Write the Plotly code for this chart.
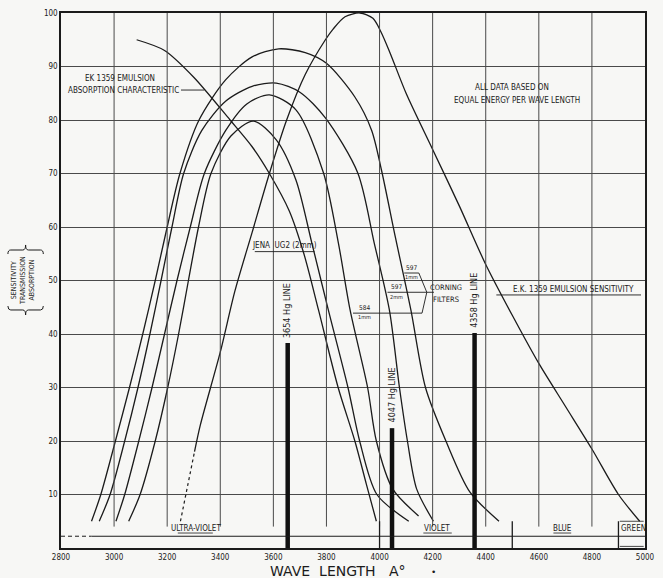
import plotly.graph_objects as go

# ---------------- data ----------------
x_ticks = [2800, 3000, 3200, 3400, 3600, 3800, 4000, 4200, 4400, 4600, 4800, 5000]
y_ticks = [10, 20, 30, 40, 50, 60, 70, 80, 90, 100]

# E.K. 1359 emulsion sensitivity (dashed lower-left part + solid)
sens_dash_x = [3250, 3275, 3303]
sens_dash_y = [5, 11, 18]
sens_x = [3303, 3325, 3400, 3455, 3520, 3585, 3650, 3720, 3796, 3825, 3870, 3926, 3975, 4005,
          4040, 4100, 4200, 4300, 4400, 4500, 4600, 4700, 4800, 4900, 4980]
sens_y = [18, 23, 36.6, 48, 59, 70, 80, 88.5, 95, 97, 99.3, 100, 99, 96.5,
          92.5, 85, 74.5, 64, 53, 43.5, 34.5, 26.5, 18.5, 10, 5]

# E.K. 1359 emulsion absorption characteristic
abs_x = [3085, 3190, 3300, 3437, 3520, 3585, 3660, 3715, 3770, 3844, 3907, 3950, 3988]
abs_y = [95, 93, 88, 80, 75, 70, 63, 55, 44.5, 30, 20, 12, 5]

# Corning 597 (1 mm)
c597a_x = [2915, 2950, 3005, 3058, 3108, 3155, 3200, 3248, 3320, 3420, 3520, 3620,
           3720, 3800, 3907, 3970, 4007, 4060, 4118, 4173, 4250, 4340, 4450]
c597a_y = [5, 10, 20, 30, 40, 50, 60, 70, 80, 87.5, 91.8, 93.3,
           92.6, 90.6, 84.3, 78.1, 70.7, 58, 44.5, 30, 20, 10.5, 5]

# Corning 597 (2 mm)
c597b_x = [2944, 2985, 3040, 3090, 3135, 3177, 3218, 3262, 3330, 3420, 3520, 3611,
           3700, 3796, 3918, 3980, 4037, 4075, 4105, 4140, 4203]
c597b_y = [5, 10, 20, 30, 40, 50, 60, 70, 78, 83.5, 86.3, 86.9,
           85.2, 80.4, 70.1, 57, 44.5, 30, 20, 11, 5]

# Corning 584 (1 mm)
c584_x = [3007, 3040, 3093, 3143, 3190, 3237, 3287, 3340, 3420, 3500, 3585,
          3685, 3789, 3845, 3889, 3955, 3988, 4050, 4147]
c584_y = [5, 10, 20, 30, 40, 50, 60, 70, 78, 83, 84.7,
          81.9, 70.1, 57, 44.5, 30, 20, 11, 6]

# Jena UG2 (2 mm)
jena_x = [3055, 3098, 3155, 3202, 3243, 3280, 3318, 3365, 3440, 3525, 3611,
          3685, 3745, 3807, 3881, 3925, 3990, 4110]
jena_y = [5, 10, 20, 30, 40, 50, 60, 70, 77, 79.8, 76.3,
          68.8, 57, 44.5, 30, 20, 10, 5]

# Mercury lines
hg_x = [3654, 4047, 4358]
hg_y = [38.3, 22.4, 40.2]
hg_labels = ["3654 Hg LINE", "4047 Hg LINE", "4358 Hg LINE"]

# Spectral band
band_level = 2.2
band_ticks = [4000, 4500, 4900]
band_names = ["ULTRA-VIOLET", "VIOLET", "BLUE", "GREEN"]
band_name_x = [3307, 4218, 4689, 4955]

# ---------------- styling ----------------
INK = "#1b1b1b"
GRID = "#4a4a4a"
BG = "#f7f7f5"
FONT = "DejaVu Sans Condensed, DejaVu Sans, sans-serif"

fig = go.Figure()

curve_style = dict(mode="lines", line=dict(color=INK, width=1.3, shape="spline", smoothing=0.8),
                   hoverinfo="skip", showlegend=False)

for xs, ys in [(sens_x, sens_y), (abs_x, abs_y), (c597a_x, c597a_y),
               (c597b_x, c597b_y), (c584_x, c584_y), (jena_x, jena_y)]:
    fig.add_trace(go.Scatter(x=xs, y=ys, **curve_style))

fig.add_trace(go.Scatter(x=sens_dash_x, y=sens_dash_y, mode="lines",
                         line=dict(color=INK, width=1.2, dash="3px,3px"),
                         hoverinfo="skip", showlegend=False))

# mercury lines as thick bars
for hx, hy in zip(hg_x, hg_y):
    fig.add_trace(go.Scatter(x=[hx, hx], y=[0, hy], mode="lines",
                             line=dict(color="#111", width=4.5),
                             hoverinfo="skip", showlegend=False))

shapes = []
# vertical grid lines, stopping above the spectral band
for xv in x_ticks[1:-1]:
    shapes.append(dict(type="line", xref="x", yref="y", x0=xv, x1=xv, y0=4, y1=100,
                       line=dict(color=GRID, width=1)))
# spectral band line
shapes.append(dict(type="line", xref="x", yref="y", x0=2800, x1=2915, y0=band_level, y1=band_level,
                   line=dict(color=INK, width=1, dash="4px,3px")))
shapes.append(dict(type="line", xref="x", yref="y", x0=2915, x1=5000, y0=band_level, y1=band_level,
                   line=dict(color=INK, width=1.2)))
for bt in band_ticks:
    shapes.append(dict(type="line", xref="x", yref="y", x0=bt, x1=bt, y0=0, y1=5,
                       line=dict(color=INK, width=1.3)))


def seg(x0, y0, x1, y1, w=0.9):
    shapes.append(dict(type="line", xref="x", yref="y", x0=x0, x1=x1, y0=y0, y1=y1,
                       line=dict(color=INK, width=w)))


# underlines for band names and the GREEN box
seg(3240, 2.8, 3372, 2.8, 0.8)
seg(4165, 2.8, 4272, 2.8, 0.8)
seg(4655, 2.8, 4722, 2.8, 0.8)
seg(4905, 5.0, 4995, 5.0, 0.8)
seg(4905, 0.3, 4995, 0.3, 0.8)

# annotation leader / underline lines
seg(3252, 85.6, 3340, 85.6)                      # absorption leader
seg(3530, 55.4, 3755, 55.4)                      # Jena underline
seg(4440, 47.3, 4985, 47.3)                      # sensitivity underline
seg(4093, 51.4, 4148, 51.4)                      # 597 1mm
seg(4030, 47.8, 4178, 47.8)                      # 597 2mm
seg(3900, 43.9, 4160, 43.9)                      # 584 1mm
seg(4148, 51.4, 4178, 47.8)                      # bracket
seg(4178, 47.8, 4160, 43.9)
seg(4178, 47.8, 4205, 47.8)


# braces of the y-axis title (paper coordinates)
def brace(x0, x1, y_end, y_body, y_tip):
    xm = (x0 + x1) / 2
    d = (x1 - x0) * 0.08
    p = (f"M {x0},{y_end} Q {x0},{y_body} {x0 + d},{y_body} L {xm - d},{y_body} "
         f"Q {xm},{y_body} {xm},{y_tip} Q {xm},{y_body} {xm + d},{y_body} "
         f"L {x1 - d},{y_body} Q {x1},{y_body} {x1},{y_end}")
    shapes.append(dict(type="path", xref="paper", yref="paper", path=p,
                       line=dict(color=INK, width=1)))


brace(-0.0909, -0.0303, 0.5495, 0.557, 0.5664)
brace(-0.0909, -0.0303, 0.4523, 0.4449, 0.4355)

fig.update_layout(shapes=shapes)

ann = []


def txt(x, y, t, size=8, angle=0, xanchor="center", yanchor="middle", xref="x", yref="y", family=FONT):
    ann.append(dict(x=x, y=y, xref=xref, yref=yref, text=t, showarrow=False,
                    textangle=angle, xanchor=xanchor, yanchor=yanchor,
                    font=dict(family=family, size=size, color=INK)))


txt(3022, 87.8, "EK 1359 EMULSION")
txt(3037, 85.5, "ABSORPTION CHARACTERISTIC")
txt(4500, 86.0, "ALL DATA BASED ON")
txt(4519, 83.6, "EQUAL ENERGY PER WAVE LENGTH")
txt(3642, 56.6, "JENA  UG2 (2mm)")
txt(4730, 48.3, "E.K. 1359 EMULSION SENSITIVITY")
txt(4120, 52.4, "597", 6.5)
txt(4120, 50.6, "1mm", 5.5)
txt(4062, 48.8, "597", 6.5)
txt(4062, 47.0, "2mm", 5.5)
txt(3945, 44.9, "584", 6.5)
txt(3945, 43.1, "1mm", 5.5)
txt(4250, 48.7, "CORNING", 7.5)
txt(4250, 46.5, "FILTERS", 7.5)
for hx, hy, lab in zip(hg_x, hg_y, hg_labels):
    txt(hx, hy + 0.6, lab, 9, angle=-90, yanchor="bottom")
for bx, bn in zip(band_name_x, band_names):
    txt(bx, 3.7, bn, 8)

# y-axis title
txt(-0.066, 0.50, "SENSITIVITY<br>TRANSMISSION<br>ABSORPTION", 7, angle=-90, xref="paper", yref="paper")
# x-axis title and the stray dot
txt(0.475, -0.043, "WAVE  LENGTH   A°", 14, xref="paper", yref="paper", family="DejaVu Sans, sans-serif")
txt(4203, -0.045, "•", 9, yref="paper", family="DejaVu Sans, sans-serif")

fig.update_layout(annotations=ann)

fig.update_xaxes(range=[2800, 5000], tickvals=x_ticks, ticktext=[str(v) for v in x_ticks],
                 showgrid=False, zeroline=False, showline=True, mirror=True,
                 linecolor=INK, linewidth=1.5, ticks="", ticklabelstandoff=1,
                 tickfont=dict(family=FONT, size=8, color=INK))
fig.update_yaxes(range=[0, 100], tickvals=y_ticks, ticktext=[str(v) for v in y_ticks],
                 showgrid=True, gridcolor=GRID, gridwidth=1, zeroline=False,
                 showline=True, mirror=True, linecolor=INK, linewidth=1.5, ticks="",
                 tickfont=dict(family=FONT, size=8, color=INK))

fig.update_layout(width=663, height=578, margin=dict(l=61, r=8, t=13, b=30),
                  paper_bgcolor=BG, plot_bgcolor=BG)

fig.write_html("out.html", config={"displayModeBar": False},
               post_script="document.body.style.margin='0';")
